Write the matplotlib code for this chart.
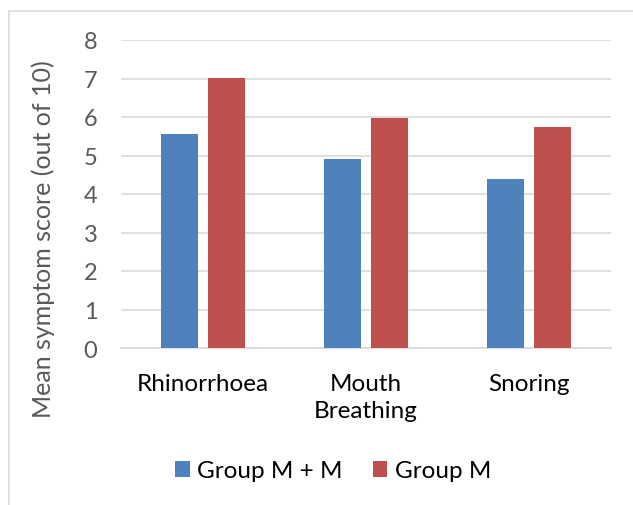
import matplotlib
matplotlib.use("Agg")
import matplotlib.pyplot as plt
import numpy as np
from matplotlib.patches import Rectangle

categories = ["Rhinorrhoea", "Mouth\nBreathing", "Snoring"]
group_mm = [5.56, 4.91, 4.39]
group_m = [7.01, 5.97, 5.73]
series_names = ["Group M + M", "Group M"]
yticks = [0, 1, 2, 3, 4, 5, 6, 7, 8]

plt.rcParams['font.family'] = ['Lato', 'DejaVu Sans']

fig = plt.figure(figsize=(6.33, 5.06), dpi=100)
ax = fig.add_axes([121/633, (506-349)/506, (611-121)/633, (349-41)/506])

x = np.arange(len(categories))
w = 0.227
off = 0.144
ax.bar(x - off, group_mm, w, color="#4F81BD", label=series_names[0], zorder=3)
ax.bar(x + off, group_m, w, color="#C0504D", label=series_names[1], zorder=3)

ax.set_xlim(-0.5, 2.5)
ax.set_ylim(0, 8)
ax.set_yticks(yticks)
ax.set_xticks(x)
ax.set_xticklabels(categories, fontsize=17.5, color="#000000", linespacing=1.35)
ax.tick_params(axis='y', labelsize=17, labelcolor="#595959", length=0, pad=17)
ax.tick_params(axis='x', length=0, pad=18)
ax.grid(axis='y', color="#D9D9D9", linewidth=1.2, zorder=0)
for s in ["top", "right", "left"]:
    ax.spines[s].set_visible(False)
ax.spines["bottom"].set_color("#D9D9D9")
ax.spines["bottom"].set_linewidth(1.2)

fig.text(43/633, 1 - 239/506, "Mean symptom score (out of 10)", rotation=90,
         ha="center", va="center", fontsize=18, color="#595959")

leg = fig.legend(loc="center", bbox_to_anchor=(333/633, 1 - 472/506), ncol=2, frameon=False,
                 fontsize=17.5, handlelength=0.6, handleheight=0.6, columnspacing=1.25, handletextpad=0.3)

fig.patches.append(Rectangle((8.5/633, -0.1), 1.2, 1 - 11.5/506 + 0.1, transform=fig.transFigure,
                             fill=False, edgecolor="#D9D9D9", linewidth=1.2))

fig.savefig("out.png", dpi=100)
